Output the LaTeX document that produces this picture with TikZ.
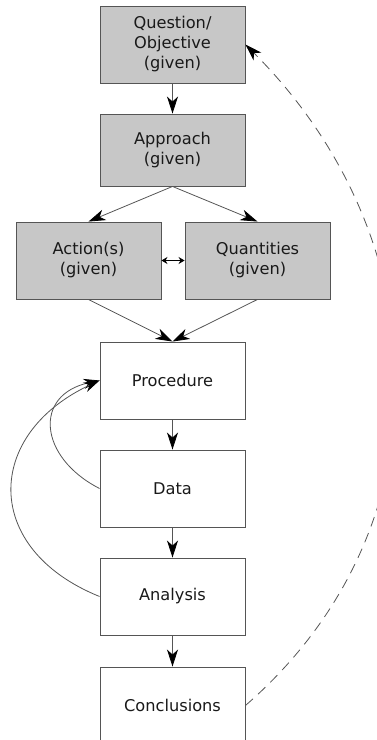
\documentclass[tikz,border=0pt]{standalone}
\usepackage{fontspec}
\setmainfont{DejaVu Sans}
\usetikzlibrary{arrows.meta}
\definecolor{givenfill}{RGB}{199,199,199}
\definecolor{edge}{RGB}{85,85,85}
\begin{document}
\begin{tikzpicture}[x=1pt,y=1pt,
  box/.style={draw=edge, line width=0.9pt, minimum width=145pt, minimum height=77pt,
    inner sep=0pt, align=center, font=\fontsize{16.2}{20}\selectfont, text=black!90},
  given/.style={box, fill=givenfill},
  bigtip/.tip={Stealth[length=17pt,width=11pt,inset=5pt,color=black]},
  smalltip/.tip={Stealth[length=6pt,width=7pt,inset=2pt,color=black]},
  looptip/.tip={Stealth[length=16pt,width=10pt,inset=5pt,color=black]},
  flow/.style={draw=edge, line width=0.8pt, -bigtip},
  pair/.style={draw=black, line width=0.8pt, smalltip-smalltip},
  loopback/.style={draw=edge, line width=0.8pt, -looptip},
  feedback/.style={draw=edge, line width=0.8pt, dash pattern=on 10pt off 7pt, -bigtip}]
\useasboundingbox (0,0) rectangle (377,740);

% given inputs
\node[given] (q) at (172.5,695.5) {Question/\\Objective\\(given)};
\node[given, minimum height=72pt] (a) at (172.5,590) {Approach\\(given)};
\node[given] (act) at (88.5,479.5) {Action(s)\\(given)};
\node[given] (qty) at (257.5,479.5) {Quantities\\(given)};

% experiment steps
\node[box] (proc) at (172.5,359.5) {Procedure};
\node[box] (data) at (172.5,251.5) {Data};
\node[box] (anal) at (172.5,143.5) {Analysis};
\node[box] (concl) at (172.5,34.5) {Conclusions};

% main flow
\draw[flow] (q) -- (a);
\draw[flow] (a.south) -- (act.north);
\draw[flow] (a.south) -- (qty.north);
\draw[pair] (act) -- (qty);
\draw[flow] (act.south) -- (proc.north);
\draw[flow] (qty.south) -- (proc.north);
\draw[flow] (proc) -- (data);
\draw[flow] (data) -- (anal);
\draw[flow] (anal) -- (concl);

% iteration loops back to the procedure
\draw[loopback] (data.west) to[out=153,in=192,looseness=1.62] (proc.west);
\draw[loopback] (anal.west) to[out=158,in=205,looseness=1.51] (proc.west);

% conclusions feed back to the question
\draw[feedback] (concl.east) to[out=41,in=-45,looseness=1.06] (q.east);
\end{tikzpicture}
\end{document}
